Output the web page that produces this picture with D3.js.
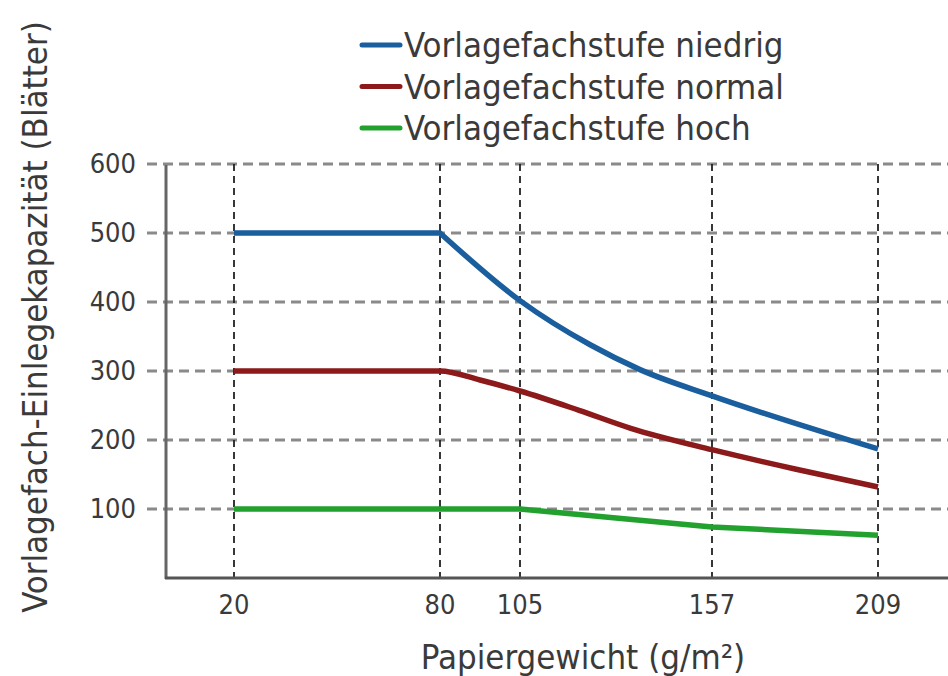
<!DOCTYPE html>
<html>
<head>
<meta charset="utf-8">
<script src="https://cdn.jsdelivr.net/npm/d3@7"></script>
<style>
  html, body { margin: 0; padding: 0; background: #fff; }
  svg text { font-family: "Liberation Sans Narrow", "DejaVu Sans Condensed", "Roboto Condensed", "Noto Sans", sans-serif; font-stretch: condensed; fill: #3a3a3a; }
</style>
</head>
<body>
<svg id="chart" width="948" height="676"></svg>
<script>
// ---- data ----
const xTicks = [20, 80, 105, 157, 209];
const yTicks = [100, 200, 300, 400, 500, 600];
const seriesNames = ["Vorlagefachstufe niedrig", "Vorlagefachstufe normal", "Vorlagefachstufe hoch"];
const seriesColors = ["#1a5e9e", "#8c1a1a", "#22a12f"];
const niedrigX = [20, 80, 105, 124, 137.5, 157, 209];
const niedrigY = [500, 500, 402, 338, 302, 264, 187];
const normalX = [20, 80, 92.5, 105, 121, 135, 157, 183, 209];
const normalY = [300, 300, 287, 271, 243, 217, 186, 158, 132];
const hochX = [20, 80, 105, 157, 209];
const hochY = [100, 100, 100, 74, 62];
const xTitle = "Papiergewicht (g/m²)";
const yTitle = "Vorlagefach-Einlegekapazität (Blätter)";

const series = [
  { name: seriesNames[0], color: seriesColors[0], pts: niedrigX.map((x, i) => [x, niedrigY[i]]), kinkAt: 80, curve: d3.curveMonotoneX },
  { name: seriesNames[1], color: seriesColors[1], pts: normalX.map((x, i) => [x, normalY[i]]), kinkAt: null, curve: d3.curveMonotoneX },
  { name: seriesNames[2], color: seriesColors[2], pts: hochX.map((x, i) => [x, hochY[i]]), kinkAt: null, curve: d3.curveLinear }
];

const svg = d3.select("#chart");
const W = 948;
const axisX = 166, axisY = 578, topY = 164;

const x = d3.scaleLinear().domain(xTicks).range([234, 440, 520, 712, 878]);
const y = d3.scaleLinear().domain([0, 600]).range([axisY, topY]);

// horizontal grid (gray dashed)
svg.append("g").selectAll("line").data(yTicks).join("line")
  .attr("x1", 147).attr("x2", W)
  .attr("y1", d => y(d)).attr("y2", d => y(d))
  .attr("stroke", "#8a8a8a").attr("stroke-width", 3.2)
  .attr("stroke-dasharray", "10,6");

// vertical grid (black dashed)
svg.append("g").selectAll("line").data(xTicks).join("line")
  .attr("x1", d => x(d)).attr("x2", d => x(d))
  .attr("y1", y(600)).attr("y2", axisY)
  .attr("stroke", "#222").attr("stroke-width", 1.8)
  .attr("stroke-dasharray", "7,5");

// axes lines
svg.append("line").attr("x1", axisX).attr("x2", axisX).attr("y1", y(600) + 1).attr("y2", axisY + 1)
  .attr("stroke", "#666").attr("stroke-width", 3);
svg.append("line").attr("x1", axisX - 1).attr("x2", W).attr("y1", axisY).attr("y2", axisY)
  .attr("stroke", "#555").attr("stroke-width", 3);

// tick labels
svg.append("g").selectAll("text").data(yTicks).join("text")
  .attr("x", 136).attr("y", d => y(d)).attr("dy", "0.35em")
  .attr("text-anchor", "end").attr("font-size", 27).text(d => d);
svg.append("g").selectAll("text").data(xTicks).join("text")
  .attr("x", d => x(d)).attr("y", 614)
  .attr("text-anchor", "middle").attr("font-size", 27).text(d => d);

// axis titles
svg.append("text").attr("x", 583).attr("y", 669).attr("text-anchor", "middle")
  .attr("font-size", 34.5).text(xTitle);
svg.append("text").attr("transform", "translate(47,317) rotate(-90)")
  .attr("text-anchor", "middle").attr("font-size", 34.5).text(yTitle);

// series lines
function pathFor(s) {
  const linLine = d3.line().x(d => x(d[0])).y(d => y(d[1])).curve(d3.curveLinear);
  const cLine = d3.line().x(d => x(d[0])).y(d => y(d[1])).curve(s.curve);
  if (s.kinkAt == null) return cLine(s.pts);
  const a = s.pts.filter(p => p[0] <= s.kinkAt);
  const b = s.pts.filter(p => p[0] >= s.kinkAt);
  return linLine(a) + cLine(b).replace(/^M/, "L");
}
svg.append("g").selectAll("path").data(series).join("path")
  .attr("d", pathFor)
  .attr("fill", "none").attr("stroke", d => d.color)
  .attr("stroke-width", 5.5).attr("stroke-linejoin", "round");

// legend
const leg = svg.append("g").selectAll("g").data(series).join("g")
  .attr("transform", (d, i) => `translate(362,${45 + i * 41.5})`);
leg.append("line").attr("x1", 0).attr("x2", 38).attr("y1", 0).attr("y2", 0)
  .attr("stroke", d => d.color).attr("stroke-width", 5).attr("stroke-linecap", "round");
leg.append("text").attr("x", 42).attr("y", 0).attr("dy", "0.35em")
  .attr("font-size", 34.5).text(d => d.name);
</script>
</body>
</html>
